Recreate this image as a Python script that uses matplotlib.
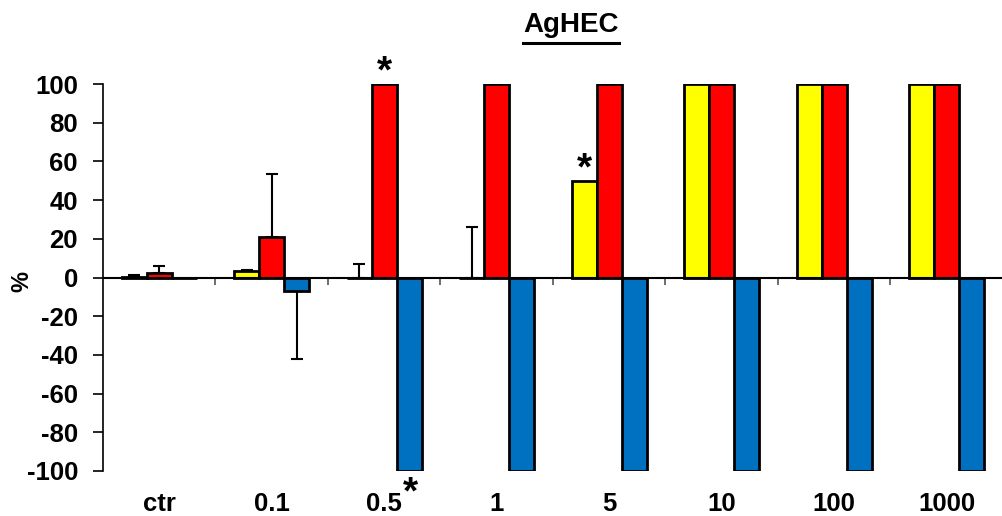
import matplotlib
matplotlib.use("Agg")
import matplotlib.pyplot as plt
import numpy as np
from matplotlib.lines import Line2D

plt.rcParams['font.family'] = ['Liberation Sans', 'DejaVu Sans']

categories = ["ctr", "0.1", "0.5", "1", "5", "10", "100", "1000"]
yellow_vals = [0.5, 3.3, 0, 0, 50, 100, 100, 100]
yellow_err = [1.0, 0.8, 7, 26, 0, 0, 0, 0]
red_vals = [2.5, 21, 100, 100, 100, 100, 100, 100]
red_err = [3.5, 32.5, 0, 0, 0, 0, 0, 0]
blue_vals = [0, -7, -100, -100, -100, -100, -100, -100]
blue_err = [0, 35, 0, 0, 0, 0, 0, 0]
y_ticks = [100, 80, 60, 40, 20, 0, -20, -40, -60, -80, -100]

W, H = 1003, 516
fig = plt.figure(figsize=(W / 100, H / 100), dpi=100)
ax = fig.add_axes([103 / W, 45 / H, 900 / W, 387 / H])

x = np.arange(len(categories))
bw = 0.222
series = [(yellow_vals, yellow_err, "#FFFF00", -bw),
          (red_vals, red_err, "#FF0000", 0),
          (blue_vals, blue_err, "#0070C0", bw)]
for vals, errs, col, off in series:
    ax.bar(x + off, vals, width=bw, color=col, edgecolor="black", linewidth=2, zorder=3)
    vals = np.array(vals, dtype=float)
    errs = np.array(errs, dtype=float)
    up = np.where(vals >= 0, errs, 0)
    lo = np.where(vals < 0, errs, 0)
    m = errs > 0
    ax.errorbar((x + off)[m], vals[m], yerr=[lo[m], up[m]], fmt="none",
                ecolor="black", elinewidth=1.5, capsize=4.5, capthick=1.5, zorder=2)

ax.axhline(0, color="black", linewidth=1.5, zorder=4)
# boundary ticks on zero line
ax.vlines(np.arange(len(categories) - 1) + 0.5, -4, 0, color="#555555", linewidth=1.2, zorder=1)

fs = 18.5
ax.set_xlim(-0.5, len(categories) - 0.5)
ax.set_ylim(-100, 100)
ax.set_yticks(y_ticks)
ax.set_yticklabels([str(t) for t in y_ticks], fontsize=fs, fontweight="bold")
ax.set_xticks(x)
ax.set_xticklabels(categories, fontsize=fs, fontweight="bold")
ax.tick_params(axis="x", length=0, pad=15)
ax.tick_params(axis="y", length=7, width=1.2, direction="out", pad=11)
for s in ["top", "right", "bottom"]:
    ax.spines[s].set_visible(False)
ax.spines["left"].set_linewidth(1.2)
fig.text(22 / W, 1 - 281 / H, "%", rotation=90, ha="center", va="center",
         fontsize=17, fontweight="bold")

# significance stars
ax.text(2, 101, "*", ha="center", va="baseline", fontsize=28, fontweight="bold", clip_on=False)
ax.text(4 - bw, 50.5, "*", ha="center", va="baseline", fontsize=28, fontweight="bold", clip_on=False)
ax.text(2 + bw * 1.05, -117, "*", ha="center", va="baseline", fontsize=28, fontweight="bold", clip_on=False)

t = fig.text(571 / W, 1 - 25 / H, "AgHEC", ha="center", va="center", fontsize=20, fontweight="bold")
fig.canvas.draw()
bb = t.get_window_extent()
uy = (H - 43) / H
fig.add_artist(Line2D([bb.x0 / W, bb.x1 / W], [uy, uy],
                      color="black", linewidth=2.2, transform=fig.transFigure))

fig.savefig("out.png", dpi=100)
